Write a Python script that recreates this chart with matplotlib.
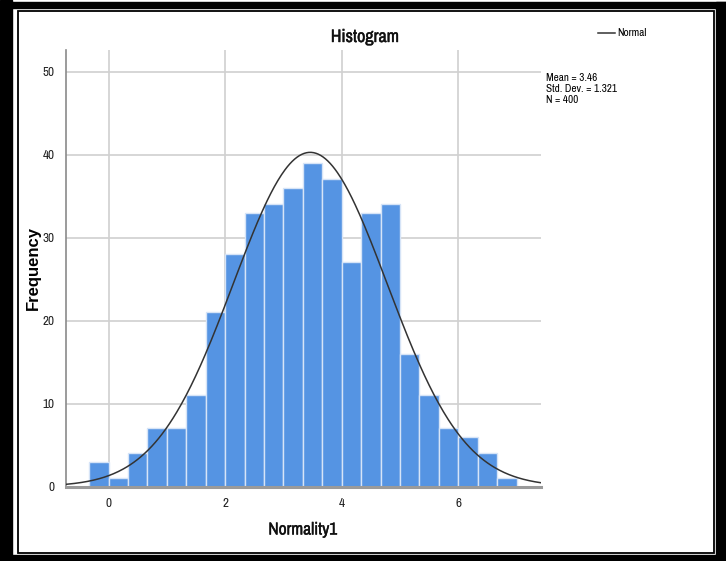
import numpy as np
import matplotlib
matplotlib.use("Agg")
import matplotlib.pyplot as plt
from matplotlib import font_manager
import matplotlib.patheffects as pe
from matplotlib.patches import Rectangle
from matplotlib.lines import Line2D

# Data
bin_width = 1.0 / 3.0
bin_start = -1.0 / 3.0
counts = [3, 1, 4, 7, 7, 11, 21, 28, 33, 34, 36, 39, 37, 27, 33, 34, 16, 11, 7, 6, 4, 1]
mean_val = 3.46
std_val = 1.321
n_val = 400
x_ticks = [0, 2, 4, 6]
y_ticks = [0, 10, 20, 30, 40, 50]
title = "Histogram"
x_label = "Normality1"
y_label = "Frequency"

# look for a condensed / narrow sans face
cond_family = None
cond_stretch = 'normal'
for f in font_manager.fontManager.ttflist:
    nm = f.name.lower()
    if ('narrow' in nm or 'condensed' in nm) and 'mono' not in nm and 'serif' not in nm:
        cond_family = f.name
        break
if cond_family is None:
    for f in font_manager.fontManager.ttflist:
        if ('condensed' in str(f.stretch) or (isinstance(f.stretch, int) and f.stretch < 500)) \
                and 'mono' not in f.name.lower() and 'serif' not in f.name.lower():
            cond_family = f.name
            cond_stretch = 'condensed'
            break
have_cond = cond_family is not None
narrow = [cond_family, 'Liberation Sans', 'DejaVu Sans'] if have_cond else ['Liberation Sans', 'DejaVu Sans']
wide = ['Liberation Sans', 'DejaVu Sans']
k = 1.0 if have_cond else 0.86

W, H = 726, 561
fig = plt.figure(figsize=(W / 100, H / 100), dpi=100)

def frect(x0, y0, x1, y1, **kw):
    fig.patches.append(Rectangle((x0 / W, 1 - y1 / H), (x1 - x0) / W, (y1 - y0) / H,
                                 transform=fig.transFigure, **kw))

frect(0, 0, 12, H, color='black', zorder=0)
frect(12, 2, W, 8, color='black', zorder=0)
frect(716, 2, W, H, color='black', zorder=0)
frect(12, 555, W, H, color='black', zorder=0)
frect(18, 10.5, 714, 552.5, fill=False, edgecolor='black', linewidth=1.3, zorder=0)

ax = fig.add_axes([66 / W, 1 - 486.5 / H, (541 - 66) / W, (486.5 - 50) / H])
edges = bin_start + bin_width * np.arange(len(counts) + 1)
ax.bar(edges[:-1], counts, width=bin_width, align='edge', color='#5594E3',
       edgecolor='#D6E4F7', linewidth=1.0, zorder=2)

xs = np.linspace(-0.73, 7.42, 400)
pdf = n_val * bin_width / (std_val * np.sqrt(2 * np.pi)) * np.exp(-0.5 * ((xs - mean_val) / std_val) ** 2)
ax.plot(xs, pdf, color='#333333', linewidth=1.1, zorder=3)

ax.set_xlim(-0.73, 7.42)
ax.set_ylim(0, 52.6)
ax.set_xticks(x_ticks)
ax.set_yticks(y_ticks)
ax.grid(True, color='#D0D0D0', linewidth=1.2, zorder=0)
ax.set_axisbelow(True)
for s in ['top', 'right']:
    ax.spines[s].set_visible(False)
ax.spines['left'].set_color('#8A8A8A')
ax.spines['left'].set_linewidth(1.2)
ax.spines['bottom'].set_color('#9A9A9A')
ax.spines['bottom'].set_linewidth(2.2)
ax.tick_params(axis='both', length=0, labelsize=9.5 * k, colors='#222222')
ax.tick_params(axis='x', pad=8)
ax.tick_params(axis='y', pad=8)
for lab in ax.get_xticklabels() + ax.get_yticklabels():
    lab.set_family(narrow)
    lab.set_stretch(cond_stretch)

thick = [pe.withStroke(linewidth=0.3, foreground='#111111')]
fig.text(365 / W, 1 - 37 / H, title, ha='center', va='center', fontsize=13 * k, family=narrow,
         fontstretch=cond_stretch, fontweight='bold', color='#111111', path_effects=thick)
fig.text(303 / W, 1 - 530 / H, x_label, ha='center', va='center', fontsize=12.5 * k, family=narrow,
         fontstretch=cond_stretch, fontweight='bold', color='#111111', path_effects=thick)
fig.text(33 / W, 1 - 268 / H, y_label, ha='center', va='center', rotation=90, fontsize=12,
         family=wide, fontweight='bold')

stat_fs = 8 * k
fig.text(546 / W, 1 - 78 / H, "Mean = %.2f" % mean_val, ha='left', va='center', fontsize=stat_fs,
         family=narrow, fontstretch=cond_stretch)
fig.text(546 / W, 1 - 89 / H, "Std. Dev. = %.3f" % std_val, ha='left', va='center', fontsize=stat_fs,
         family=narrow, fontstretch=cond_stretch)
fig.text(546 / W, 1 - 100 / H, "N = %d" % n_val, ha='left', va='center', fontsize=stat_fs,
         family=narrow, fontstretch=cond_stretch)

fig.lines.append(Line2D([598 / W, 615 / W], [1 - 33 / H, 1 - 33 / H], transform=fig.transFigure,
                        color='#333333', linewidth=1.1))
fig.text(617 / W, 1 - 33 / H, "Normal", ha='left', va='center', fontsize=stat_fs, family=narrow,
         fontstretch=cond_stretch)

fig.savefig("out.png", dpi=100)
